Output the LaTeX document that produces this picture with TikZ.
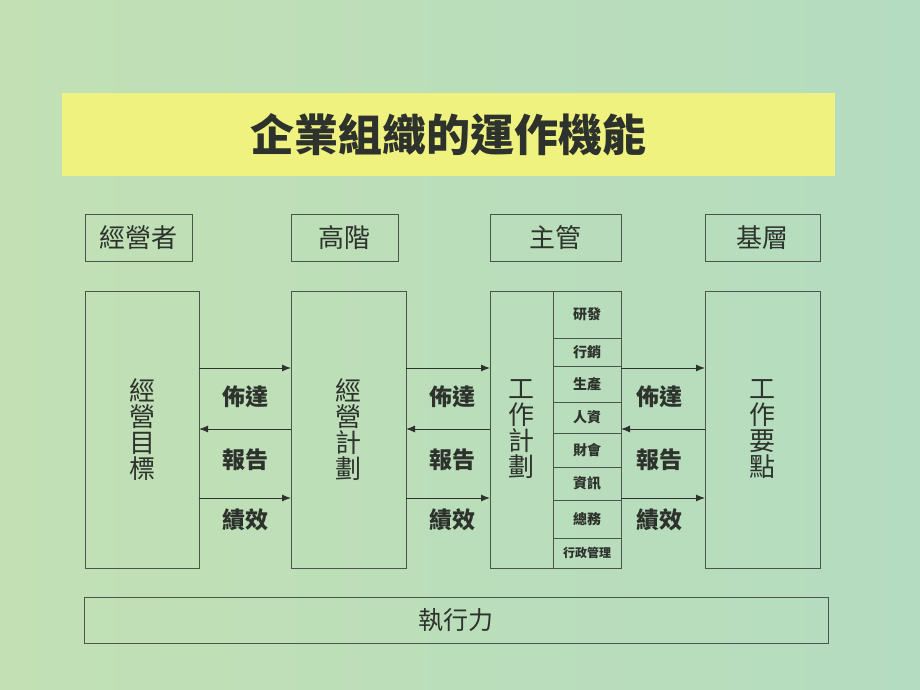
\documentclass[tikz,border=0pt]{standalone}
\usepackage{fontspec}
\newfontfamily\cjk{Noto Sans CJK TC}
\usetikzlibrary{arrows.meta,positioning}
\definecolor{bgleft}{RGB}{194,224,180}
\definecolor{bgright}{RGB}{180,220,192}
\definecolor{titlefill}{RGB}{240,242,128}
\definecolor{ink}{RGB}{45,50,45}
\definecolor{frame}{RGB}{75,85,75}

\begin{document}
\begin{tikzpicture}[x=1pt,y=-1pt,font=\cjk]
\tikzstyle{box}=[draw=frame,line width=1pt,inner sep=0pt,outer sep=0pt,text=ink]
\tikzstyle{head}=[box,minimum height=47pt,font=\cjk\fontsize{26}{26}\selectfont]
\tikzstyle{tall}=[box,minimum height=277pt,align=center,font=\cjk\fontsize{26}{26}\selectfont]
\tikzstyle{item}=[box,minimum width=68pt,font=\cjk\bfseries\fontsize{14}{14}\selectfont]
\tikzstyle{flow}=[draw=ink,line width=1pt,-{Latex[length=9pt,width=7pt]}]
\tikzstyle{word}=[text=ink,font=\cjk\bfseries\fontsize{23}{23}\selectfont]

\shade[left color=bgleft,right color=bgright] (0,0) rectangle (920,690);
\useasboundingbox (0,0) rectangle (920,690);

\node[fill=titlefill,minimum width=773pt,minimum height=83pt,inner sep=0pt,text=ink]
    (title) at (448.5,134.5) {\fontsize{44}{44}\selectfont\bfseries 企業組織的運作機能};

% levels
\node[head,minimum width=107pt] (ceo)  at (138.5,237.5) {經營者};
\node[head,minimum width=107pt] (top)  at (344.5,237.5) {高階};
\node[head,minimum width=131pt] (mgr)  at (555.5,237.5) {主管};
\node[head,minimum width=115pt] (base) at (762.5,237.5) {基層};

% main columns
\node[tall,minimum width=114pt] (goal)  at (142,429.5)   {經\\營\\目\\標};
\node[tall,minimum width=115pt] (plan)  at (348.5,429.5) {經\\營\\計\\劃};
\node[tall,minimum width=63pt]  (work)  at (521.5,429.5) {工\\作\\計\\劃};
\node[tall,minimum width=115pt] (point) at (762.5,429.5) {工\\作\\要\\點};

% departments
\node[item,minimum height=47pt,anchor=north west] (d1) at (work.north east) {研發};
\node[item,minimum height=28pt,below=0pt of d1] (d2) {行銷};
\node[item,minimum height=36pt,below=0pt of d2] (d3) {生產};
\node[item,minimum height=31pt,below=0pt of d3] (d4) {人資};
\node[item,minimum height=34pt,below=0pt of d4] (d5) {財會};
\node[item,minimum height=33pt,below=0pt of d5] (d6) {資訊};
\node[item,minimum height=38pt,below=0pt of d6] (d7) {總務};
\node[item,minimum height=30pt,below=0pt of d7] (d8) {\fontsize{12}{12}\selectfont 行政管理};

\coordinate (r1) at (0,368);
\coordinate (r2) at (0,429);
\coordinate (r3) at (0,498);

\path (goal.east |- r1) edge[flow] (plan.west |- r1)
      (plan.west |- r2) edge[flow] (goal.east |- r2)
      (goal.east |- r3) edge[flow] (plan.west |- r3)

      (plan.east |- r1) edge[flow] (work.west |- r1)
      (work.west |- r2) edge[flow] (plan.east |- r2)
      (plan.east |- r3) edge[flow] (work.west |- r3)

      (d1.east |- r1)    edge[flow] (point.west |- r1)
      (point.west |- r2) edge[flow] (d1.east |- r2)
      (d1.east |- r3)    edge[flow] (point.west |- r3);

\node[word] (a1) at (245,397) {佈達};
\node[word] (a2) at (245,460) {報告};
\node[word] (a3) at (245,520) {績效};
\node[word] (b1) at (452,397) {佈達};
\node[word] (b2) at (452,460) {報告};
\node[word] (b3) at (452,520) {績效};
\node[word] (c1) at (659,397) {佈達};
\node[word] (c2) at (659,460) {報告};
\node[word] (c3) at (659,520) {績效};

\node[box,minimum width=744pt,minimum height=46pt,font=\cjk\fontsize{25}{25}\selectfont]
    (exec) at (456,620) {執行力};
\end{tikzpicture}
\end{document}
